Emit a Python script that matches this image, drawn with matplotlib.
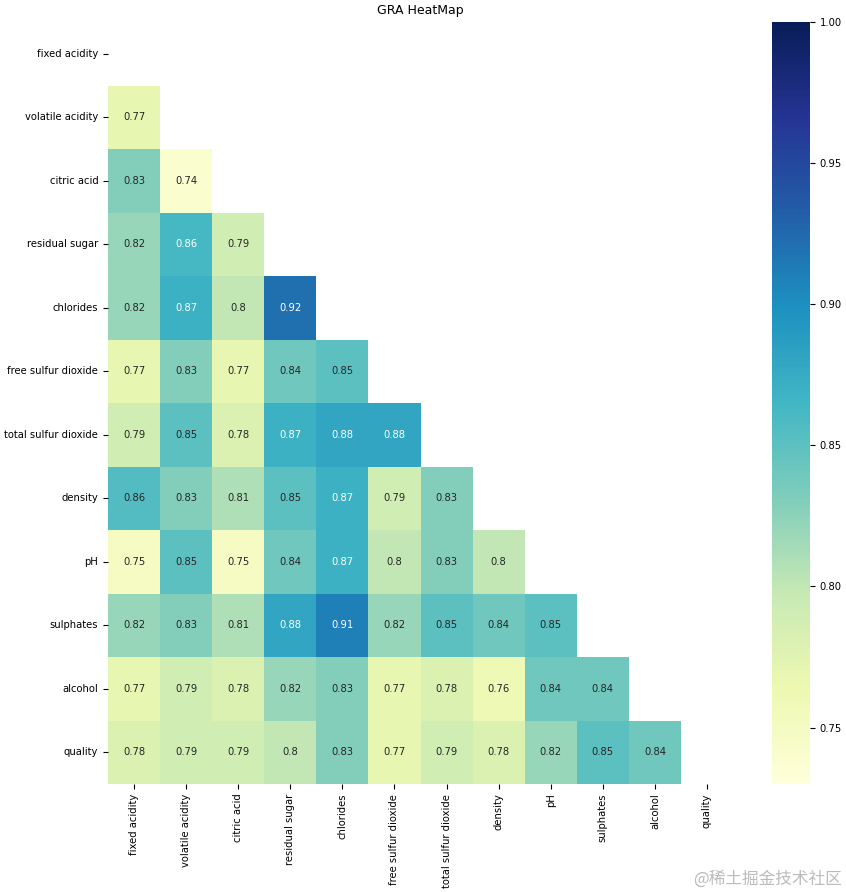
import numpy as np
import pandas as pd
import matplotlib
matplotlib.use('Agg')
import matplotlib.pyplot as plt
import seaborn as sns

labels = ['fixed acidity', 'volatile acidity', 'citric acid', 'residual sugar',
          'chlorides', 'free sulfur dioxide', 'total sulfur dioxide', 'density',
          'pH', 'sulphates', 'alcohol', 'quality']

# lower triangle of the GRA matrix, row by row
rows = [
    [0.77],
    [0.83, 0.74],
    [0.82, 0.862, 0.79],
    [0.82, 0.87, 0.80, 0.92],
    [0.77, 0.83, 0.77, 0.84, 0.85],
    [0.79, 0.85, 0.78, 0.87, 0.88, 0.88],
    [0.856, 0.83, 0.81, 0.85, 0.87, 0.79, 0.83],
    [0.75, 0.85, 0.75, 0.84, 0.87, 0.80, 0.83, 0.80],
    [0.82, 0.83, 0.81, 0.88, 0.91, 0.82, 0.85, 0.84, 0.85],
    [0.77, 0.79, 0.78, 0.82, 0.83, 0.77, 0.78, 0.76, 0.84, 0.84],
    [0.78, 0.79, 0.79, 0.80, 0.83, 0.77, 0.79, 0.78, 0.82, 0.85, 0.84],
]

n = len(labels)
mat = np.eye(n)
for i, r in enumerate(rows, start=1):
    mat[i, :len(r)] = r
    mat[:len(r), i] = r
df = pd.DataFrame(mat, index=labels, columns=labels)
mask = np.triu(np.ones_like(mat, dtype=bool))

fig = plt.figure(figsize=(8.46, 8.92), dpi=100)
ax = fig.add_axes([108/846, 108/892, 625/846, 762/892])
cax = fig.add_axes([772/846, 108/892, 38/846, 762/892])
sns.heatmap(df, mask=mask, annot=True, cmap='YlGnBu', vmin=0.73, vmax=1.0,
            ax=ax, cbar_ax=cax, annot_kws={'size': 7.2})
ax.set_title('GRA HeatMap', fontsize=9)
ax.tick_params(labelsize=7.2)
cax.tick_params(labelsize=7.2)
fig.text(0.995, 0.005, '@稀土掘金技术社区', ha='right', va='bottom', fontsize=12,
         color='#bbbbbb', family=['Noto Sans CJK SC', 'DejaVu Sans'])
fig.savefig('out.png', dpi=100)
